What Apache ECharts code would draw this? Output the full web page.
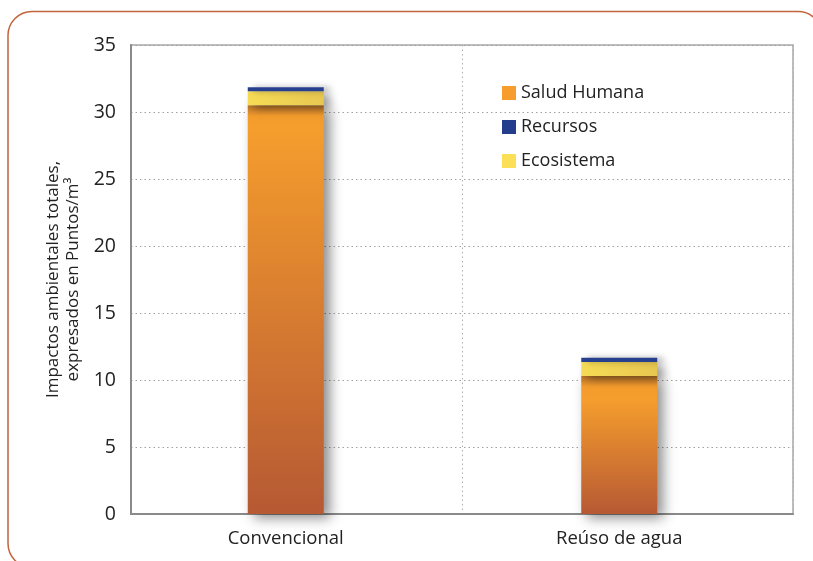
<!DOCTYPE html>
<html>
<head>
<meta charset="utf-8">
<script src="https://cdn.jsdelivr.net/npm/echarts@6/dist/echarts.min.js"></script>
<style>
  html, body { margin: 0; padding: 0; background: #ffffff; }
  #chart { width: 813px; height: 561px; }
</style>
</head>
<body>
<div id="chart"></div>
<script>
// Impactos ambientales totales por escenario (Puntos/m³)
const categories = ['Convencional', 'Reúso de agua'];
const saludHumana = [30.5, 10.3];
const ecosistema = [1.05, 1.04];
const recursos = [0.3, 0.32];
const yTicks = { min: 0, max: 35, interval: 5 };
const seriesNames = ['Salud Humana', 'Recursos', 'Ecosistema'];

const FONT = '"Open Sans", "DejaVu Sans", sans-serif';
const TEXT = '#222222';

function orangeFill(value) {
  // darker band under the yellow layer, then a bright-to-brown fade
  const band = Math.min(0.08, 0.8 / value);
  return {
    type: 'linear', x: 0, y: 0, x2: 0, y2: 1,
    colorStops: [
      { offset: 0, color: '#b8742a' },
      { offset: band, color: '#f39b2c' },
      { offset: band * 2.2, color: '#f59d2d' },
      { offset: 1, color: '#b65934' }
    ]
  };
}

const yellowFill = {
  type: 'linear', x: 0, y: 0, x2: 1, y2: 0,
  colorStops: [
    { offset: 0, color: '#f6dc55' },
    { offset: 1, color: '#e8c751' }
  ]
};

const chart = echarts.init(document.getElementById('chart'), null, { renderer: 'canvas' });

chart.setOption({
  animation: false,
  backgroundColor: '#ffffff',
  textStyle: { fontFamily: FONT },
  graphic: [{
    type: 'rect',
    shape: { x: 8, y: 11.5, width: 814, height: 556, r: 24 },
    style: { fill: 'none', stroke: '#c0643c', lineWidth: 1.5 },
    silent: true,
    z: -10
  }],
  legend: {
    orient: 'vertical',
    left: 497,
    top: 78,
    itemWidth: 14,
    itemHeight: 14,
    itemGap: 14,
    icon: 'rect',
    textStyle: { color: TEXT, fontSize: 18, fontFamily: FONT, lineHeight: 20 },
    data: [
      { name: seriesNames[0], itemStyle: { color: '#f79d2d' } },
      { name: seriesNames[1], itemStyle: { color: '#243c8c' } },
      { name: seriesNames[2], itemStyle: { color: '#fbdf56' } }
    ]
  },
  grid: [
    // bars
    { left: 119, right: 27, top: 45, bottom: 47 },
    // framed plot area
    { left: 131, right: 20, top: 45, bottom: 47, show: true,
      borderColor: '#a8a8a8', borderWidth: 1.5, backgroundColor: 'transparent' }
  ],
  xAxis: [
    {
      type: 'category', gridIndex: 0, data: categories,
      axisLine: { show: false }, axisTick: { show: false },
      splitLine: { show: false },
      axisLabel: { color: TEXT, fontSize: 18.5, margin: 15, fontFamily: FONT }
    },
    {
      type: 'category', gridIndex: 1, data: categories,
      axisLine: { show: true, lineStyle: { color: '#8a8a8a', width: 2 } },
      axisTick: { show: false },
      axisLabel: { show: false },
      splitLine: { show: true, lineStyle: { color: '#b0b0b0', type: [1.5, 3], width: 1 } }
    }
  ],
  yAxis: [
    {
      type: 'value', gridIndex: 0, min: yTicks.min, max: yTicks.max, interval: yTicks.interval,
      show: false
    },
    {
      type: 'value', gridIndex: 1, min: yTicks.min, max: yTicks.max, interval: yTicks.interval,
      name: 'Impactos ambientales totales,\nexpresados en Puntos/m³',
      nameLocation: 'middle',
      nameGap: 48,
      nameRotate: 90,
      nameTextStyle: { color: TEXT, fontSize: 17, lineHeight: 20, fontFamily: FONT },
      axisLine: { show: true, lineStyle: { color: '#8a8a8a', width: 2 } },
      axisTick: { show: false },
      axisLabel: { color: TEXT, fontSize: 19.5, margin: 15, fontFamily: FONT },
      splitLine: { show: true, lineStyle: { color: '#a0a0a0', type: [1.5, 3], width: 1 } }
    }
  ],
  series: [
    {
      name: seriesNames[0], type: 'bar', stack: 'total', xAxisIndex: 0, yAxisIndex: 0,
      barWidth: 76,
      data: saludHumana.map(v => ({ value: v, itemStyle: { color: orangeFill(v) } })),
      itemStyle: {
        shadowColor: 'rgba(0,0,0,0.45)', shadowBlur: 12, shadowOffsetX: 6, shadowOffsetY: 4
      },
      z: 2
    },
    {
      name: seriesNames[2], type: 'bar', stack: 'total', xAxisIndex: 0, yAxisIndex: 0,
      barWidth: 76,
      data: ecosistema,
      itemStyle: {
        color: yellowFill,
        shadowColor: 'rgba(0,0,0,0.4)', shadowBlur: 10, shadowOffsetX: 6, shadowOffsetY: 3
      },
      z: 3
    },
    {
      name: seriesNames[1], type: 'bar', stack: 'total', xAxisIndex: 0, yAxisIndex: 0,
      barWidth: 76,
      data: recursos,
      itemStyle: {
        color: '#26408f',
        shadowColor: 'rgba(0,0,0,0.3)', shadowBlur: 6, shadowOffsetX: 6, shadowOffsetY: 0
      },
      z: 4
    }
  ]
});
</script>
</body>
</html>
